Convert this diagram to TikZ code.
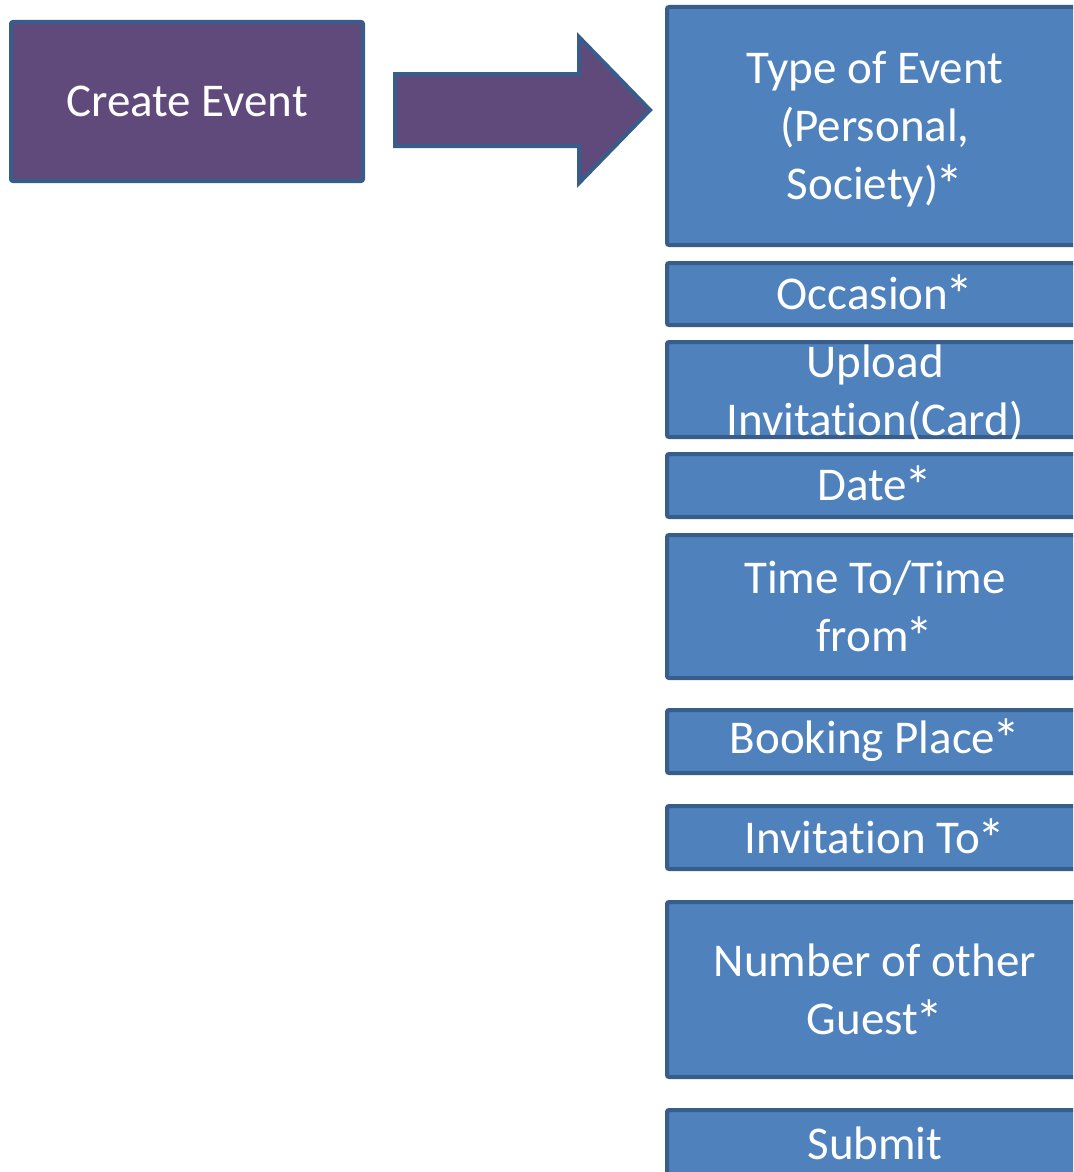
\documentclass[tikz,border=0pt]{standalone}
\usepackage{fontspec}
\setmainfont{Carlito}[Ligatures=NoCommon]
\definecolor{purplefill}{HTML}{604A7B}
\definecolor{bluefill}{HTML}{4F81BD}
\definecolor{blueborder}{HTML}{385D8A}
\newcommand{\req}{\kern-3pt\smash{\raisebox{-5pt}{\fontsize{56}{58}\selectfont *}}}
\tikzset{
  txt/.style={text=white, font=\fontsize{47}{58}\selectfont, align=center, inner sep=0pt},
  pbox/.style={draw=blueborder, fill=purplefill, line width=4pt, rounded corners=2pt, inner sep=0pt},
  bbox/.style={draw=blueborder, fill=bluefill, line width=4pt, rounded corners=2pt, inner sep=0pt, minimum width=416pt},
}
\begin{document}
\begin{tikzpicture}[x=1pt,y=-1pt]
\useasboundingbox (0,0) rectangle (1073,1172);
\fill[white] (0,0) rectangle (1073,1172);
\begin{scope}
\clip (0,0) rectangle (1073,1172);
\node[pbox, minimum width=352pt, minimum height=159pt,
  label={[txt]center:Create Event}] (create) at (187,101.5) {};
\draw[draw=blueborder, fill=purplefill, line width=4pt, line join=miter]
  (395,74) -- (579,74) -- (579,37) -- (650,110) -- (579,183) -- (579,146) -- (395,146) -- cycle;
\node[bbox, minimum height=238pt, label={[txt, yshift=-3pt]center:{Type of Event\\(Personal,\\Society)\req}}] (type) at (875,126) {};
\node[bbox, minimum height=62pt, label={[txt]center:{Occasion\req}}] (occ) at (875,294) {};
\node[bbox, minimum height=95pt, label={[txt, yshift=-4pt]center:{Upload\\Invitation(Card)}}] (upl) at (875,389.5) {};
\node[bbox, minimum height=63pt, label={[txt]center:{Date\req}}] (date) at (875,485.5) {};
\node[bbox, minimum height=143pt, label={[txt]center:{Time To/Time\\from\req}}] (time) at (875,606.5) {};
\node[bbox, minimum height=63pt, label={[txt]center:{Booking Place\req}}] (book) at (875,741.5) {};
\node[bbox, minimum height=63pt, label={[txt]center:{Invitation To\req}}] (inv) at (875,837.5) {};
\node[bbox, minimum height=175pt, label={[txt]center:{Number of other\\Guest\req}}] (num) at (875,989.5) {};
\node[bbox, minimum height=66pt, label={[txt]center:{Submit}}] (sub) at (875,1143) {};
\end{scope}
\end{tikzpicture}
\end{document}
